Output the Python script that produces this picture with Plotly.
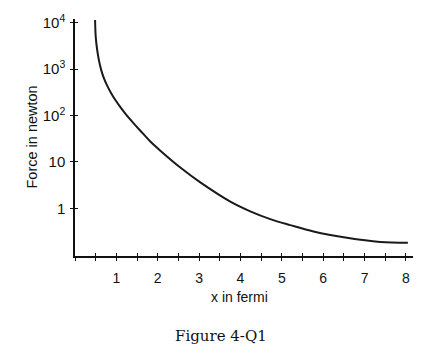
import plotly.graph_objects as go

# Data (x in fermi, force in newton)
x_fermi = [0.4855, 0.500, 0.534, 0.580, 0.633, 0.698, 0.775, 0.867, 0.976, 1.097, 1.217,
           1.418, 1.621, 1.821, 2.063, 2.546, 3.029, 3.754, 4.237, 4.720, 5.203, 5.766,
           6.572, 7.377, 8.046]
force_newton = [11400, 5090, 2680, 1524, 964, 640, 446, 311, 216, 152, 110,
                68, 43.0, 27.6, 17.5, 7.58, 3.63, 1.40, 0.865, 0.588, 0.436, 0.317,
                0.232, 0.189, 0.181]

x_ticks = [1, 2, 3, 4, 5, 6, 7, 8]
y_ticks = [1, 10, 100, 1000, 10000]
y_ticktext = ["1", "10", "10<sup>2</sup>", "10<sup>3</sup>", "10<sup>4</sup>"]

font_sans = "Liberation Sans, Arial, sans-serif"

fig = go.Figure()
fig.add_trace(go.Scatter(
    x=x_fermi, y=force_newton, mode="lines",
    line=dict(color="#1a1a1a", width=2, shape="spline", smoothing=1.0),
    showlegend=False, hoverinfo="skip",
))
# invisible trace on overlay axes so they render
fig.add_trace(go.Scatter(x=[None], y=[None], xaxis="x2", yaxis="y2", showlegend=False))

x_range = [0, 8.17]
y_range = [-1.026, 4.08]

fig.update_layout(
    width=446, height=355,
    margin=dict(l=75, r=33, t=12, b=99),
    paper_bgcolor="white", plot_bgcolor="white",
    font=dict(family=font_sans, size=13, color="#111"),
    xaxis=dict(
        range=x_range, showgrid=False, zeroline=False,
        showline=True, linecolor="#111", linewidth=1.5,
        tickmode="array", tickvals=x_ticks, ticktext=[str(v) for v in x_ticks],
        ticks="outside", ticklen=3, tickwidth=1.2, tickcolor="#111",
        minor=dict(dtick=0.5, tick0=0.5, ticks="outside", ticklen=3, tickwidth=1.2, tickcolor="#111"),
        tickfont=dict(size=14), ticklabelstandoff=5,
    ),
    yaxis=dict(
        type="log", range=y_range, showgrid=False, zeroline=False,
        showline=True, linecolor="#111", linewidth=1.5,
        tickmode="array", tickvals=y_ticks, ticktext=y_ticktext,
        ticks="outside", ticklen=3, tickwidth=1.2, tickcolor="#111",
        tickfont=dict(size=15), ticklabelstandoff=2,
    ),
    xaxis2=dict(
        overlaying="x", range=x_range, showgrid=False, zeroline=False,
        showline=False, showticklabels=False,
        tickmode="array", tickvals=x_ticks,
        ticks="inside", ticklen=3, tickwidth=1.2, tickcolor="#111",
        minor=dict(dtick=0.5, tick0=0.5, ticks="inside", ticklen=3, tickwidth=1.2, tickcolor="#111"),
    ),
    yaxis2=dict(
        overlaying="y", type="log", range=y_range, showgrid=False, zeroline=False,
        showline=False, showticklabels=False,
        tickmode="array", tickvals=y_ticks,
        ticks="inside", ticklen=3, tickwidth=1.2, tickcolor="#111",
    ),
    annotations=[
        dict(text="x in fermi", xref="paper", yref="paper", x=0.486, y=0,
             yshift=-41, showarrow=False, xanchor="center", yanchor="middle",
             font=dict(family=font_sans, size=14, color="#111")),
        dict(text="Force in newton", xref="paper", yref="paper", x=0, y=0.5,
             xshift=-44, showarrow=False, textangle=-90, xanchor="center", yanchor="middle",
             font=dict(family=font_sans, size=14.5, color="#111")),
        dict(text="Figure 4-Q1", xref="paper", yref="paper", x=0.431, y=0,
             yshift=-80, showarrow=False, xanchor="center", yanchor="middle",
             font=dict(family="DejaVu Serif, Liberation Serif, serif", size=15, color="#111")),
    ],
)

fig.write_html("out.html")
